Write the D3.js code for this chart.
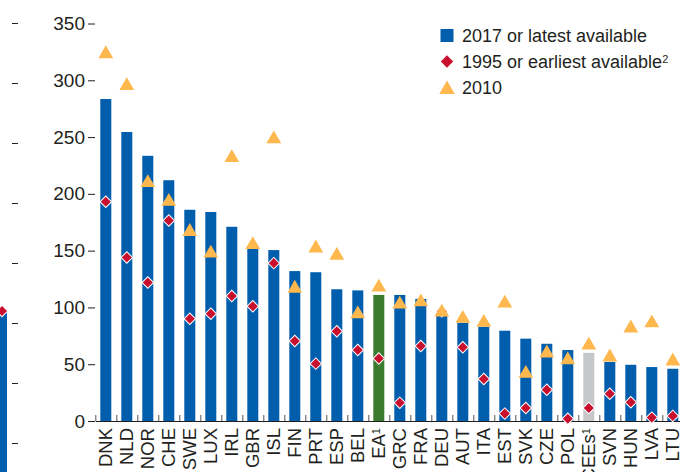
<!DOCTYPE html>
<html>
<head>
<meta charset="utf-8">
<script src="https://cdn.jsdelivr.net/npm/d3@7"></script>
<style>
  body { margin: 0; background: #fff; }
  text { font-family: "Liberation Sans", Arial, sans-serif; fill: #231f20; }
</style>
</head>
<body>
<div id="chart"></div>
<script>
// Categories and series
const countries = ["DNK", "NLD", "NOR", "CHE", "SWE", "LUX", "IRL", "GBR", "ISL", "FIN",
    "PRT", "ESP", "BEL", "EA", "GRC", "FRA", "DEU", "AUT", "ITA", "EST",
    "SVK", "CZE", "POL", "CEEs", "SVN", "HUN", "LVA", "LTU"];
const latest = [283.5, 254.5, 233.5, 212, 186, 184, 171, 153, 150.5, 132,
    131, 116, 115, 111, 111, 107.5, 95, 86.5, 83, 79.5,
    72.5, 68, 62.5, 60, 52, 49.5, 47.5, 46];
const earliest = [193, 144, 122, 176.5, 90, 94.5, 110, 101, 139, 70.5,
    50.5, 79, 62.5, 55, 16, 66, 96.5, 65, 37, 6.5,
    11.5, 27.5, 2, 11.5, 24, 16.5, 3, 4.5];
const y2010 = [325, 297, 211.5, 195, 168.5, 149.5, 233.5, 157, 250, 118.5,
    154, 147.5, 96, 119.5, 104.5, 106.5, 97.5, 92, 88.5, 105.5,
    43.5, 61.5, 55.5, 68.5, 58, 83.5, 88, 54.5];
const superscripts = { "EA": "1", "CEEs": "1" };
const yTicks = [0, 50, 100, 150, 200, 250, 300, 350];

// Left neighbour panel (cut off at the image edge)
const leftTicks = [0, 1, 2, 3, 4, 5, 6, 7];
const leftBar = 2.2;

const legendItems = [
    { label: "2017 or latest available", sup: "", type: "bar" },
    { label: "1995 or earliest available", sup: "2", type: "diamond" },
    { label: "2010", sup: "", type: "triangle" }
];

const colors = { bar: "#005eac", ea: "#3a7b2f", cees: "#c6c7c9", diamond: "#c8102e", triangle: "#ffb84e" };

const width = 680, height = 472;

const svg = d3.select("#chart")
    .append("svg")
    .attr("width", width)
    .attr("height", height);

// Scales
const x = d3.scaleBand()
    .domain(countries)
    .range([95.3, 683.3])
    .paddingInner(0.476)
    .paddingOuter(0.238);

const y = d3.scaleLinear()
    .domain([0, 350])
    .range([421, 23.5]);

const xEdges = d3.scaleLinear()
    .domain([0, countries.length])
    .range(x.range());

const yLeft = d3.scaleLinear()
    .domain([0, 7])
    .range([443, 23]);

// Left panel remnant
svg.append("rect")
    .attr("x", -4)
    .attr("y", yLeft(leftBar))
    .attr("width", 11)
    .attr("height", yLeft(-1) - yLeft(leftBar))
    .attr("fill", colors.bar);

svg.append("g")
    .attr("transform", "translate(12,0)")
    .call(d3.axisRight(yLeft).tickValues(leftTicks).tickSize(6).tickFormat(""))
    .call(g => g.select(".domain").remove())
    .selectAll("line").attr("stroke", "#231f20");

// Y axis
svg.append("g")
    .attr("transform", "translate(95,0)")
    .call(d3.axisLeft(y).tickValues(yTicks).tickSize(7).tickPadding(3))
    .call(g => g.select(".domain").remove())
    .call(g => g.selectAll("line").attr("stroke", "#231f20"))
    .selectAll("text")
    .style("font-size", "19px")
    .style("font-family", "Liberation Sans, Arial, sans-serif")
    .attr("fill", "#231f20");

// Bars
const barColor = d => d === "EA" ? colors.ea : d === "CEEs" ? colors.cees : colors.bar;

svg.selectAll(".bar")
    .data(countries)
    .enter()
    .append("rect")
    .attr("class", "bar")
    .attr("x", d => x(d))
    .attr("y", (d, i) => y(latest[i]))
    .attr("width", x.bandwidth())
    .attr("height", (d, i) => y(0) - y(latest[i]))
    .attr("fill", barColor);

// X axis with inward ticks at category edges
svg.append("g")
    .attr("transform", `translate(0,${y(0)})`)
    .call(d3.axisBottom(xEdges).tickValues(d3.range(0, countries.length + 1)).tickSizeInner(-6).tickSizeOuter(0).tickFormat(""))
    .call(g => g.select(".domain").attr("stroke", "#231f20").attr("stroke-width", 1.2))
    .selectAll("line").attr("stroke", "#555");

// Diamonds (1995)
const diamond = d3.symbol().type(d3.symbolSquare).size(66);

svg.selectAll(".diamond")
    .data(countries)
    .enter()
    .append("path")
    .attr("class", "diamond")
    .attr("d", diamond)
    .attr("transform", (d, i) => `translate(${x(d) + x.bandwidth() / 2},${y(earliest[i])}) rotate(45)`)
    .attr("fill", colors.diamond)
    .attr("stroke", "#fff")
    .attr("stroke-width", 1);

svg.append("path")
    .attr("d", diamond)
    .attr("transform", `translate(2,${yLeft(leftBar)}) rotate(45)`)
    .attr("fill", colors.diamond)
    .attr("stroke", "#fff")
    .attr("stroke-width", 1);

// Triangles (2010)
const triangle = d3.symbol().type(d3.symbolTriangle).size(95);

svg.selectAll(".tri")
    .data(countries)
    .enter()
    .append("path")
    .attr("class", "tri")
    .attr("d", triangle)
    .attr("transform", (d, i) => `translate(${x(d) + x.bandwidth() / 2},${y(y2010[i]) + 2})`)
    .attr("fill", colors.triangle);

// Category labels
const labels = svg.selectAll(".label")
    .data(countries)
    .enter()
    .append("text")
    .attr("class", "label")
    .attr("transform", d => `translate(${x(d) + x.bandwidth() / 2},428) rotate(-90)`)
    .attr("text-anchor", "end")
    .attr("dy", "0.36em")
    .style("font-size", "18.5px");

labels.append("tspan").text(d => d);
labels.filter(d => superscripts[d])
    .append("tspan")
    .attr("dy", "-0.5em")
    .style("font-size", "11px")
    .text(d => superscripts[d]);

// Legend
const legend = svg.selectAll(".legend")
    .data(legendItems)
    .enter()
    .append("g")
    .attr("class", "legend")
    .attr("transform", (d, i) => `translate(447,${35.5 + i * 26})`);

legend.filter(d => d.type === "bar")
    .append("rect")
    .attr("x", -6.5).attr("y", -6.5)
    .attr("width", 13).attr("height", 13)
    .attr("fill", colors.bar);

legend.filter(d => d.type === "diamond")
    .append("path")
    .attr("d", d3.symbol().type(d3.symbolSquare).size(76))
    .attr("transform", "rotate(45)")
    .attr("fill", colors.diamond);

legend.filter(d => d.type === "triangle")
    .append("path")
    .attr("d", d3.symbol().type(d3.symbolTriangle).size(105))
    .attr("transform", "translate(0,2)")
    .attr("fill", colors.triangle);

const legendText = legend.append("text")
    .attr("x", 15)
    .attr("y", 6.5)
    .style("font-size", "18px");

legendText.append("tspan").text(d => d.label);
legendText.filter(d => d.sup)
    .append("tspan")
    .attr("dy", "-0.45em")
    .style("font-size", "11px")
    .text(d => d.sup);
</script>
</body>
</html>
